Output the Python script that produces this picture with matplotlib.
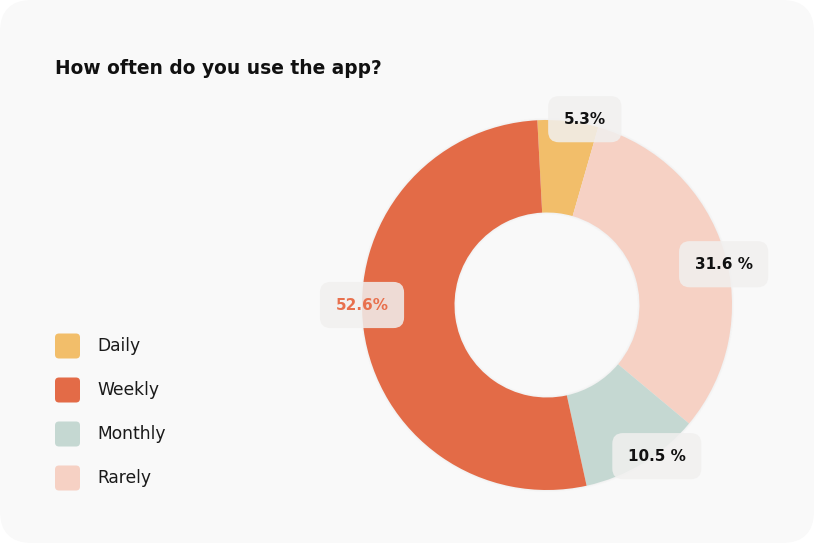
import numpy as np
import matplotlib.pyplot as plt
from matplotlib.patches import FancyBboxPatch

# %%
# survey answers, in the order the wedges are drawn (clockwise from the top)
categories = ['Daily', 'Rarely', 'Monthly', 'Weekly']
shares = [5.3, 31.6, 10.5, 52.6]
value_labels = ['5.3%', '31.6 %', '10.5 %', '52.6%']

# legend order as shown on the card
legend_order = ['Daily', 'Weekly', 'Monthly', 'Rarely']

COLORS = {'Daily': '#F2BE6A', 'Weekly': '#E36B47',
          'Monthly': '#C5D8D2', 'Rarely': '#F6D1C4'}

# label box placement: (angle clockwise from top in degrees, distance in radii)
LABEL_POS = {'Daily': (11.5, 1.025), 'Rarely': (77, 0.98),
             'Monthly': (144, 1.01), 'Weekly': (270, 1.0)}

W, H = 814, 543
plt.rcParams['font.family'] = ['DejaVu Sans']

fig = plt.figure(figsize=(W / 100, H / 100), dpi=100)
fig.patch.set_facecolor('white')

# background card with rounded corners
bg = fig.add_axes([0, 0, 1, 1])
bg.set_xlim(0, W)
bg.set_ylim(H, 0)
bg.axis('off')
bg.add_patch(FancyBboxPatch((30, 30), W - 60, H - 60,
                            boxstyle='round,pad=30,rounding_size=32',
                            fc='#F9F9F9', ec='none'))

bg.text(55, 68, 'How often do you use the app?', fontsize=13.4, fontweight='bold',
        color='#111111', va='center', ha='left')

# legend: rounded swatches + labels
for i, name in enumerate(legend_order):
    yc = 346 + i * 44
    bg.add_patch(FancyBboxPatch((55 + 4, yc - 12.5 + 4), 25 - 8, 25 - 8,
                                boxstyle='round,pad=4,rounding_size=4',
                                fc=COLORS[name], ec='none'))
    bg.text(97, yc, name, fontsize=12.3, color='#1a1a1a', va='center', ha='left')

# %%
# donut
cx, cy, r = 547, 305, 185
ax = fig.add_axes([(cx - r) / W, (H - cy - r) / H, 2 * r / W, 2 * r / H])
ax.set_facecolor('none')

# soft shadow rings
for k in range(4):
    ax.pie([1], radius=1.0 + 0.003 * (k + 1), colors=['#000000'],
           wedgeprops=dict(width=0.5 + 0.006 * (k + 1), alpha=0.006, linewidth=0),
           startangle=90)

wedges, _ = ax.pie(shares, colors=[COLORS[c] for c in categories],
                   startangle=93, counterclock=False, radius=1.0,
                   wedgeprops=dict(width=0.5, linewidth=0))
ax.set_xlim(-1, 1)
ax.set_ylim(-1, 1)
ax.set_aspect('equal')

# value labels in translucent rounded boxes
for name, lab in zip(categories, value_labels):
    ang, dist = LABEL_POS[name]
    x = dist * np.sin(np.radians(ang))
    y = dist * np.cos(np.radians(ang))
    col = '#E8704D' if name == 'Weekly' else '#111111'
    ax.text(x, y, lab, fontsize=11, fontweight='bold', color=col,
            ha='center', va='center', clip_on=False, zorder=5,
            bbox=dict(boxstyle='round,pad=1.02,rounding_size=0.7',
                      fc='#F1F0EF', ec='none', alpha=0.85))

fig.savefig('out.png', dpi=100, facecolor='white')
